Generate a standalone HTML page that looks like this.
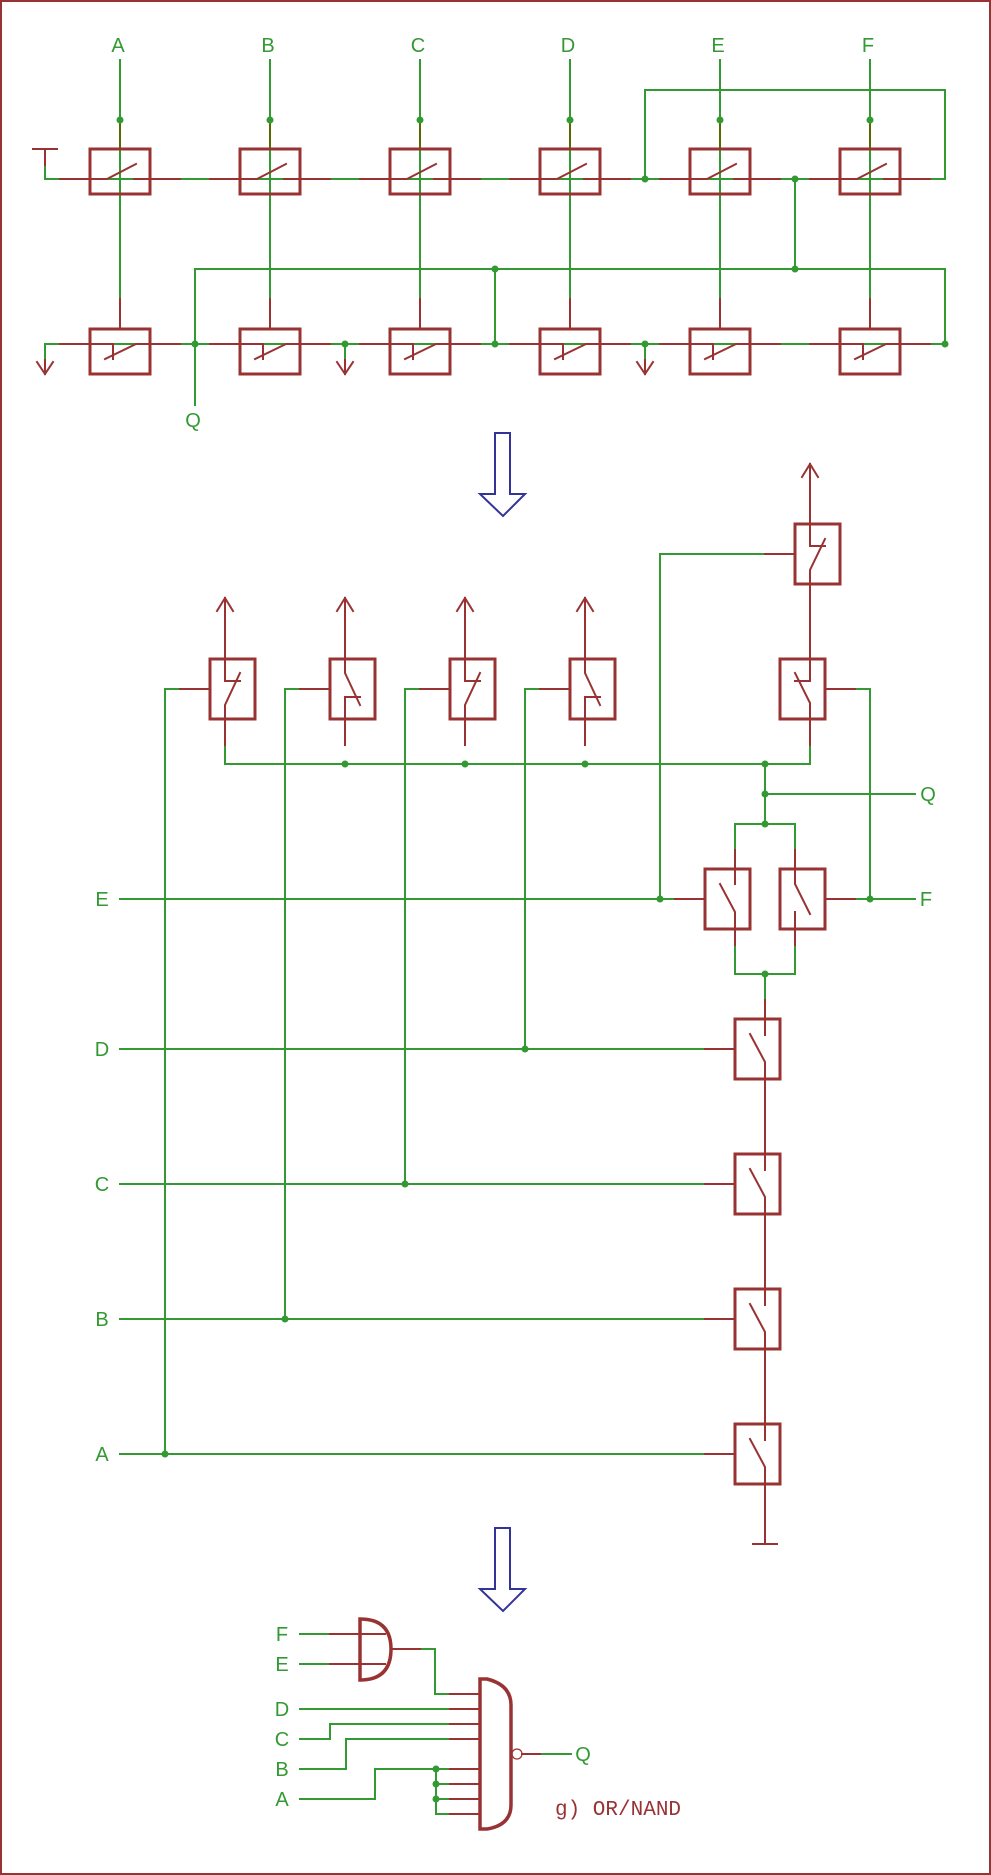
<!DOCTYPE html>
<html><head><meta charset="utf-8"><style>
html,body{margin:0;padding:0;background:#fff;}
svg{display:block;}
text{font-family:"Liberation Sans",sans-serif;font-size:20px;}
</style></head><body>
<svg width="991" height="1875" viewBox="0 0 991 1875" xmlns="http://www.w3.org/2000/svg">
<rect x="1" y="1" width="989" height="1873" fill="#fff" stroke="#993333" stroke-width="2"/>

<g fill="none" stroke-linecap="square">
<g stroke="#339933" stroke-width="2">
  <line x1="45" y1="179" x2="945" y2="179"/>
  <line x1="45" y1="344" x2="945" y2="344"/>
  <line x1="120" y1="60" x2="120" y2="329"/>
  <line x1="270" y1="60" x2="270" y2="329"/>
  <line x1="420" y1="60" x2="420" y2="329"/>
  <line x1="570" y1="60" x2="570" y2="329"/>
  <line x1="720" y1="60" x2="720" y2="329"/>
  <line x1="870" y1="60" x2="870" y2="329"/>
  <polyline points="645,179 645,90 945,90 945,179"/>
  <polyline points="195,405 195,269 945,269 945,344"/>
  <line x1="795" y1="179" x2="795" y2="269"/>
  <line x1="495" y1="269" x2="495" y2="344"/>
  <line x1="45" y1="165" x2="45" y2="179"/>
  <line x1="45" y1="344" x2="45" y2="360"/>
  <line x1="345" y1="344" x2="345" y2="360"/>
  <line x1="645" y1="344" x2="645" y2="360"/>
</g>
<g stroke="#993333" stroke-width="2">
  <path d="M60,179H90M150,179H180M210,179H240M300,179H330M360,179H390M450,179H480M510,179H540M600,179H630M660,179H690M750,179H780M810,179H840M900,179H930"/>
  <path d="M60,344H90M150,344H180M210,344H240M300,344H330M360,344H390M450,344H480M510,344H540M600,344H630M660,344H690M750,344H780M810,344H840M900,344H930"/>
  <path d="M120,299V329M270,299V329M420,299V329M570,299V329M720,299V329M870,299V329"/>
  <path d="M33,149H57M45,149V165"/>
  <path d="M45,360V374M37,362L45,374L53,362"/>
  <path d="M345,360V374M337,362L345,374L353,362"/>
  <path d="M645,360V374M637,362L645,374L653,362"/>
</g>
<g stroke="#556b00" stroke-width="2">
  <path d="M120,120V149M270,120V149M420,120V149M570,120V149M720,120V149M870,120V149"/>
</g>
<g stroke="#993333" stroke-width="3">
  <rect x="90" y="149" width="60" height="45"/><rect x="240" y="149" width="60" height="45"/><rect x="390" y="149" width="60" height="45"/>
  <rect x="540" y="149" width="60" height="45"/><rect x="690" y="149" width="60" height="45"/><rect x="840" y="149" width="60" height="45"/>
  <rect x="90" y="329" width="60" height="45"/><rect x="240" y="329" width="60" height="45"/><rect x="390" y="329" width="60" height="45"/>
  <rect x="540" y="329" width="60" height="45"/><rect x="690" y="329" width="60" height="45"/><rect x="840" y="329" width="60" height="45"/>
</g>
<g stroke="#993333" stroke-width="2">
  <path d="M90,179H107L136,164M134,179H150"/>
  <path d="M240,179H257L286,164M284,179H300"/>
  <path d="M390,179H407L436,164M434,179H450"/>
  <path d="M540,179H557L586,164M584,179H600"/>
  <path d="M690,179H707L736,164M734,179H750"/>
  <path d="M840,179H857L886,164M884,179H900"/>
  <path d="M90,344H113V359M105,359L136,344H150"/>
  <path d="M240,344H263V359M255,359L286,344H300"/>
  <path d="M390,344H413V359M405,359L436,344H450"/>
  <path d="M540,344H563V359M555,359L586,344H600"/>
  <path d="M690,344H713V359M705,359L736,344H750"/>
  <path d="M840,344H863V359M855,359L886,344H900"/>
</g>

<g stroke="#333399" stroke-width="2" stroke-linejoin="miter">
  <polygon points="495,433 510,433 510,494 525,494 503,516 480,494 495,494"/>
  <polygon points="495,1528 510,1528 510,1589 525,1589 503,1611 480,1589 495,1589"/>
</g>

<g stroke="#339933" stroke-width="2">
  <line x1="120" y1="899" x2="705" y2="899"/>
  <line x1="120" y1="1049" x2="735" y2="1049"/>
  <line x1="120" y1="1184" x2="735" y2="1184"/>
  <line x1="120" y1="1319" x2="735" y2="1319"/>
  <line x1="120" y1="1454" x2="735" y2="1454"/>
  <line x1="825" y1="899" x2="915" y2="899"/>
  <polyline points="210,689 165,689 165,1454"/>
  <polyline points="330,689 285,689 285,1319"/>
  <polyline points="450,689 405,689 405,1184"/>
  <polyline points="570,689 525,689 525,1049"/>
  <polyline points="795,554 660,554 660,899"/>
  <polyline points="825,689 870,689 870,899"/>
  <polyline points="225,745 225,764 810,764 810,745"/>
  <line x1="765" y1="764" x2="765" y2="824"/>
  <line x1="765" y1="794" x2="915" y2="794"/>
  <polyline points="735,850 735,824 795,824 795,850"/>
  <polyline points="735,945 735,974 795,974 795,945"/>
  <line x1="765" y1="974" x2="765" y2="1000"/>
</g>
<g stroke="#993333" stroke-width="2">
  <path d="M180,689H210M300,689H330M420,689H450M540,689H570M765,554H795M825,689H855"/>
  <path d="M675,899H705M825,899H855M705,1049H735M705,1184H735M705,1319H735M705,1454H735"/>
  <path d="M225,598V659M217,611L225,598L233,611M225,719V745"/>
  <path d="M345,598V659M337,611L345,598L353,611M345,719V745"/>
  <path d="M465,598V659M457,611L465,598L473,611M465,719V745"/>
  <path d="M585,598V659M577,611L585,598L593,611M585,719V745"/>
  <path d="M810,464V524M802,477L810,464L818,477M810,584V659M810,719V745"/>
  <path d="M735,850V869M795,850V869M735,929V945M795,929V945"/>
  <path d="M765,1000V1019M765,1079V1154M765,1214V1289M765,1349V1424M765,1484V1544M753,1544H777"/>
</g>
<g stroke="#993333" stroke-width="3">
  <rect x="210" y="659" width="45" height="60"/>
  <rect x="330" y="659" width="45" height="60"/>
  <rect x="450" y="659" width="45" height="60"/>
  <rect x="570" y="659" width="45" height="60"/>
  <rect x="795" y="524" width="45" height="60"/>
  <rect x="780" y="659" width="45" height="60"/>
  <rect x="705" y="869" width="45" height="60"/>
  <rect x="780" y="869" width="45" height="60"/>
  <rect x="735" y="1019" width="45" height="60"/>
  <rect x="735" y="1154" width="45" height="60"/>
  <rect x="735" y="1289" width="45" height="60"/>
  <rect x="735" y="1424" width="45" height="60"/>
</g>
<g stroke="#993333" stroke-width="2">
  <path d="M225,659V681H240M240,673L225,705V719"/>
  <path d="M465,659V681H480M480,673L465,705V719"/>
  <path d="M345,659V673L360,705M360,697H345V719"/>
  <path d="M585,659V673L600,705M600,697H585V719"/>
  <path d="M810,524V546H825M825,539L810,570V584"/>
  <path d="M810,659V681H795M795,673L810,703V719"/>
  <path d="M735,869V884M720,884L735,912V929"/>
  <path d="M795,869V884L810,914M795,912V929"/>
  <path d="M765,1019V1035M750,1034L765,1062V1079"/>
  <path d="M765,1154V1170M750,1169L765,1197V1214"/>
  <path d="M765,1289V1305M750,1304L765,1332V1349"/>
  <path d="M765,1424V1440M750,1439L765,1467V1484"/>
</g>

<g stroke="#339933" stroke-width="2">
  <path d="M300,1634H360M300,1664H360"/>
  <polyline points="391,1649 435,1649 435,1694 480,1694"/>
  <path d="M300,1709H480"/>
  <polyline points="300,1739 330,1739 330,1724 480,1724"/>
  <polyline points="300,1769 346,1769 346,1739 480,1739"/>
  <polyline points="300,1799 375,1799 375,1769 480,1769"/>
  <path d="M436,1769V1814M436,1784H480M436,1799H480M436,1814H480"/>
  <path d="M522,1754H571"/>
</g>
<g stroke="#993333" stroke-width="2">
  <path d="M330,1634H385M330,1664H385M391,1649H420"/>
  <path d="M450,1694H480M450,1709H480M450,1724H480M450,1739H480M450,1769H480M450,1784H480M450,1799H480M450,1814H480"/>
  <path d="M522,1754H540"/>
  <circle cx="517" cy="1754" r="5" stroke-width="1.2"/>
</g>
<g stroke="#993333" stroke-width="3.5">
  <path d="M360,1619Q391,1619 391,1649Q391,1680 360,1680Z"/>
  <path d="M480,1679H487Q511,1685 511,1705V1805Q511,1825 487,1829H480Z"/>
</g>
</g>

<g fill="#339933">
  <circle cx="120" cy="120" r="3.5"/><circle cx="270" cy="120" r="3.5"/><circle cx="420" cy="120" r="3.5"/>
  <circle cx="570" cy="120" r="3.5"/><circle cx="720" cy="120" r="3.5"/><circle cx="870" cy="120" r="3.5"/>
  <circle cx="645" cy="179" r="3.5"/><circle cx="795" cy="179" r="3.5"/>
  <circle cx="495" cy="269" r="3.5"/><circle cx="795" cy="269" r="3.5"/>
  <circle cx="195" cy="344" r="3.5"/><circle cx="345" cy="344" r="3.5"/><circle cx="495" cy="344" r="3.5"/>
  <circle cx="645" cy="344" r="3.5"/><circle cx="945" cy="344" r="3.5"/>
  <circle cx="345" cy="764" r="3.5"/><circle cx="465" cy="764" r="3.5"/><circle cx="585" cy="764" r="3.5"/><circle cx="765" cy="764" r="3.5"/>
  <circle cx="765" cy="794" r="3.5"/><circle cx="765" cy="824" r="3.5"/><circle cx="765" cy="974" r="3.5"/>
  <circle cx="660" cy="899" r="3.5"/><circle cx="870" cy="899" r="3.5"/>
  <circle cx="525" cy="1049" r="3.5"/><circle cx="405" cy="1184" r="3.5"/><circle cx="285" cy="1319" r="3.5"/><circle cx="165" cy="1454" r="3.5"/>
  <circle cx="436" cy="1769" r="3.5"/><circle cx="436" cy="1784" r="3.5"/><circle cx="436" cy="1799" r="3.5"/>
</g>

<g fill="#339933" text-anchor="middle">
  <text x="118" y="52">A</text><text x="268" y="52">B</text><text x="418" y="52">C</text>
  <text x="568" y="52">D</text><text x="718" y="52">E</text><text x="868" y="52">F</text>
  <text x="193" y="427">Q</text>
  <text x="928" y="801">Q</text><text x="926" y="906">F</text>
  <text x="102" y="906">E</text><text x="102" y="1056">D</text><text x="102" y="1191">C</text>
  <text x="102" y="1326">B</text><text x="102" y="1461">A</text>
  <text x="282" y="1641">F</text><text x="282" y="1671">E</text><text x="282" y="1716">D</text>
  <text x="282" y="1746">C</text><text x="282" y="1776">B</text><text x="282" y="1806">A</text>
  <text x="583" y="1761">Q</text>
</g>
<text x="555" y="1815" fill="#993333" style="font-family:'Liberation Mono',monospace;font-size:21px">g) OR/NAND</text>
</svg>
</body></html>
